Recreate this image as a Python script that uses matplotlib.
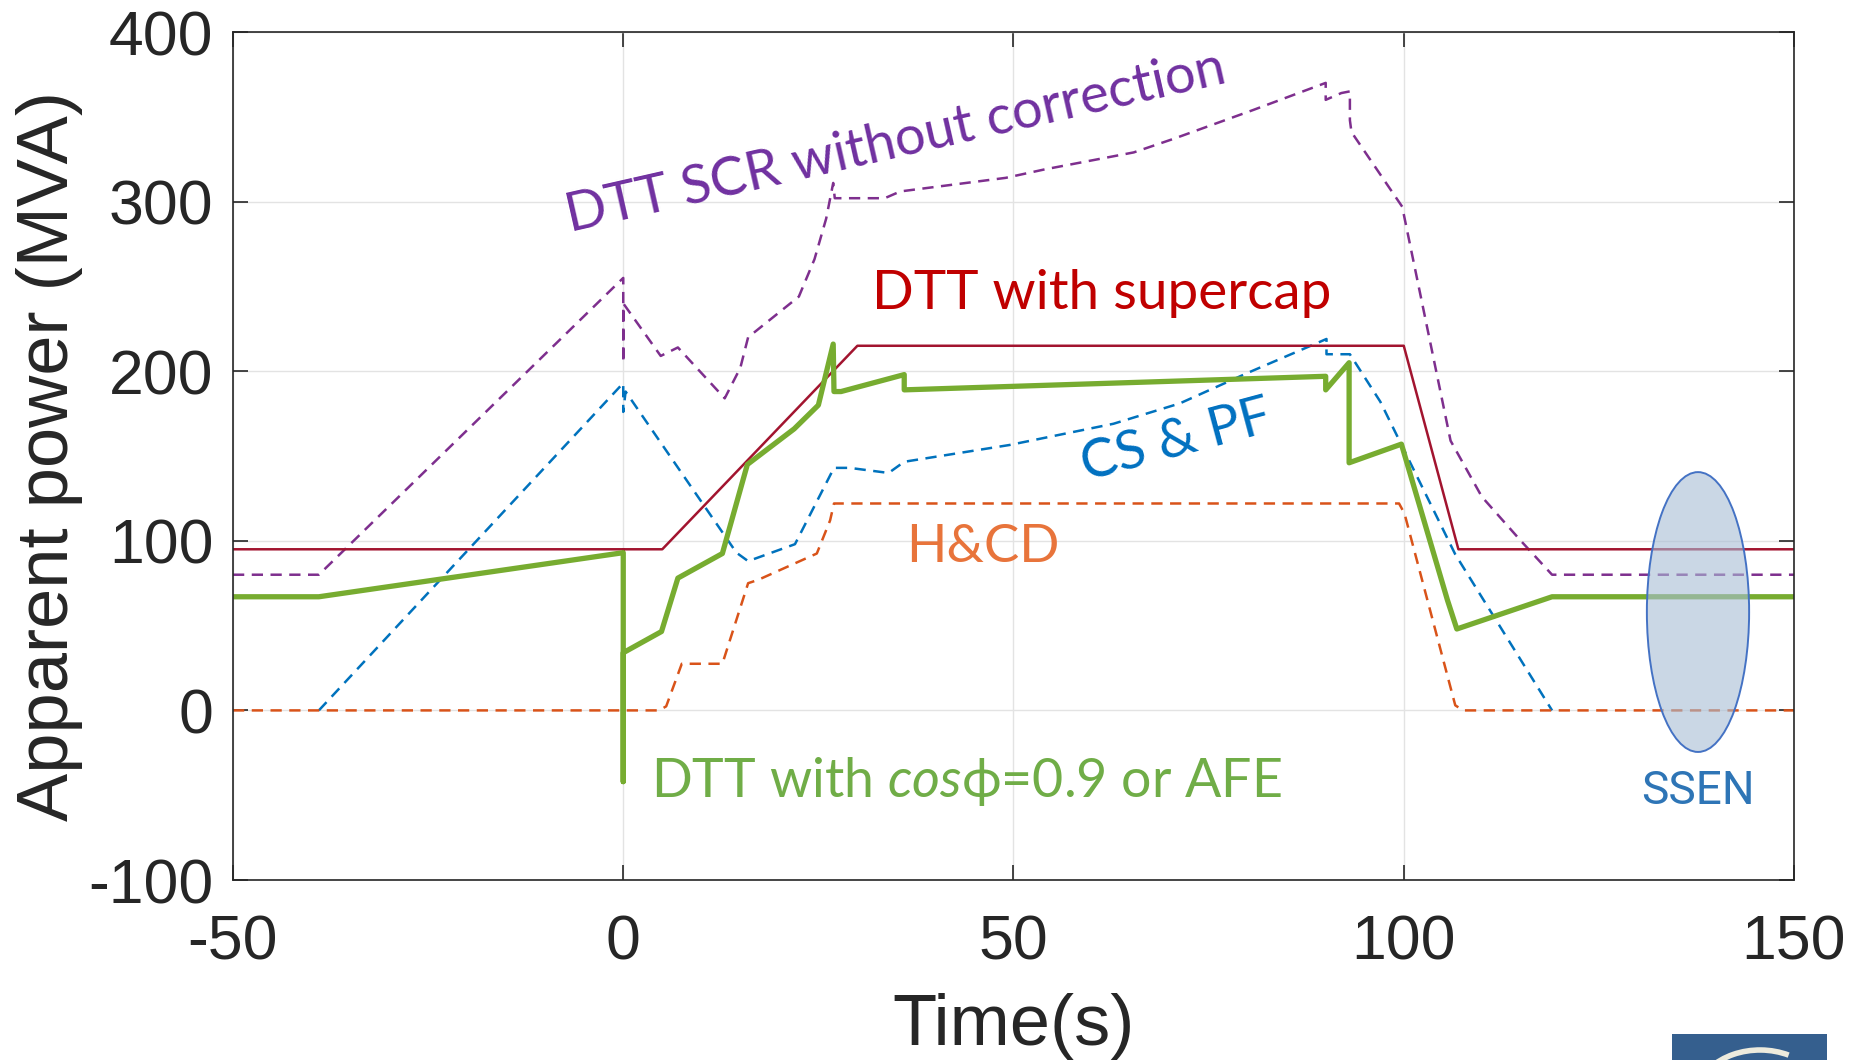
import matplotlib
matplotlib.use('Agg')
import matplotlib.pyplot as plt
from matplotlib.patches import Ellipse, Rectangle, Arc

plt.rcParams['font.family'] = ['Liberation Sans', 'DejaVu Sans']
plt.rcParams['axes.unicode_minus'] = False
plt.rcParams['mathtext.fontset'] = 'custom'
plt.rcParams['mathtext.it'] = 'Lato:italic'
plt.rcParams['mathtext.rm'] = 'Lato'

# DTT with supercap
t_cap = [-50, 0, 0, 0, 5, 30, 100, 107, 150]
p_cap = [95, 95, 86, 95, 95, 215, 215, 95, 95]

# DTT SCR without correction
t_scr = [-50, -39, 0, 0, 0, 4.8, 7, 13, 15, 16, 22.5, 24.5, 26, 26.9, 27.1, 33.5, 35.5,
         49, 54, 65.4, 70.5, 80.7, 90, 90, 92, 93.1, 93.1, 93.3, 99.8, 106, 110, 115, 119, 150]
p_scr = [80, 80, 255, 205, 240, 209, 214, 184, 202, 220, 244, 266, 290, 311, 302, 302, 306,
         314, 319, 329, 337, 354, 370, 360, 364, 365, 348, 341, 297, 159, 126, 100, 80, 80]

# CS & PF
t_cs = [-39, 0, 0, 0.3, 14.5, 16, 22, 27, 29, 34, 36, 49.5, 62.8, 71.3, 80, 90.1, 90.1,
        93.1, 97, 106.6, 119]
p_cs = [0, 193, 176, 188, 93, 88, 98, 143, 143, 140, 146.6, 156.5, 169, 181, 199, 219, 210,
        210, 182, 92, 0]

# H&CD
t_hcd = [-50, 4.6, 5.5, 7.5, 12.7, 16, 17.3, 24.8, 26.5, 27, 99.4, 100.1, 106.6, 107.6, 150]
p_hcd = [0, 0, 2.4, 27.5, 27.5, 75, 77, 92.5, 112, 122, 122, 116, 3, 0, 0]

# DTT with cos(phi)=0.9 or AFE
t_afe = [-50, -39, 0, 0, 0, 4.9, 7, 12.7, 15.9, 21.9, 25, 26.9, 27, 27.9, 36, 36, 90, 90,
         93, 93, 99.7, 105.6, 106.8, 119, 150]
p_afe = [67, 67, 93, -42, 34, 46.5, 78, 92.5, 145, 166, 180, 216, 188, 188, 198, 189, 197, 189,
         205, 146, 157, 65, 48, 67, 67]

xticks = [-50, 0, 50, 100, 150]
yticks = [-100, 0, 100, 200, 300, 400]

fig = plt.figure(figsize=(18.58, 10.60), dpi=100)
ax = fig.add_axes([233 / 1858, 1 - 880 / 1060, 1561 / 1858, 848 / 1060])

ax.plot(t_scr, p_scr, color='#7E2F8E', lw=1.8, ls=(0, (4.5, 3)))
ax.plot(t_cs, p_cs, color='#0072BD', lw=1.8, ls=(0, (4.5, 3)))
ax.plot(t_hcd, p_hcd, color='#D95319', lw=1.8, ls=(0, (4.5, 3)))
ax.plot(t_cap, p_cap, color='#A2142F', lw=1.8)
ax.plot(t_afe, p_afe, color='#77AC30', lw=3.8)

ax.add_patch(Ellipse((137.7, 58), 13.1, 165, facecolor=(0.66, 0.74, 0.83, 0.6),
                     edgecolor='#4472C4', lw=1.4, zorder=5))

lato = ['Lato', 'DejaVu Sans']
ax.text(34.9, 335, 'DTT SCR without correction', color='#7030A0', fontsize=39,
        family=lato, rotation=12.8, ha='center', va='center')
ax.text(61.3, 246, 'DTT with supercap', color='#C00000', fontsize=39.5,
        family=lato, ha='center', va='center')
ax.text(70.8, 159, 'CS & PF', color='#0070C0', fontsize=39,
        family=lato, rotation=15, ha='center', va='center')
ax.text(46.1, 96, 'H&CD', color='#E8743B', fontsize=38,
        family=lato, ha='center', va='center')
ax.text(3.6, -42, r'DTT with $cos$ϕ=0.9 or AFE', color='#70AD47', fontsize=38.7,
        family=lato, ha='left', va='center')
ax.text(137.7, -47.6, 'SSEN', color='#2E75B6', fontsize=33, family=['Roboto', 'DejaVu Sans'],
        ha='center', va='center')

ax.set_xlim(-50, 150)
ax.set_ylim(-100, 400)
ax.set_xticks(xticks)
ax.set_yticks(yticks)
ax.grid(True, color='#E3E3E3', lw=1.0)
ax.set_axisbelow(True)
for s in ax.spines.values():
    s.set_color('#262626')
    s.set_linewidth(1.2)
ax.tick_params(direction='in', length=11, width=1.2, colors='#262626', labelsize=45,
               top=True, right=True)
ax.tick_params(axis='x', pad=24)
ax.tick_params(axis='y', pad=14)
ax.set_xlabel('Time(s)', fontsize=52, color='#262626')
ax.set_ylabel('Apparent power (MVA)', fontsize=52, color='#262626')
ax.xaxis.set_label_coords(0.5, -0.133)
ax.yaxis.set_label_coords(-0.096, 0.5)

# logo fragment bottom right
fig.add_artist(Rectangle((1672 / 1858, 0), 155 / 1858, 26 / 1060, facecolor='#355F8E',
                         edgecolor='none', transform=fig.transFigure))
fig.add_artist(Arc((1760 / 1858, -40 / 1060), 130 / 1858, 100 / 1060, theta1=70, theta2=160,
                   color='#EDEBDD', lw=4, transform=fig.transFigure))

fig.savefig('out.png', dpi=100)
